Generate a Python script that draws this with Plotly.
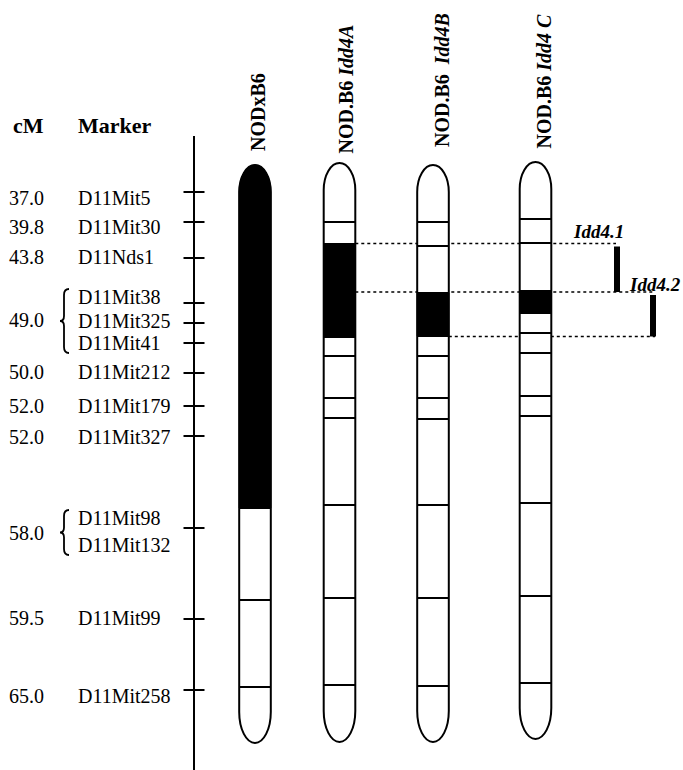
import plotly.graph_objects as go

# ---------------------------------------------------------------
# Chromosome 11 markers: genetic position (cM) and position on the drawn map
# ---------------------------------------------------------------
markers = ["D11Mit5", "D11Mit30", "D11Nds1", "D11Mit38", "D11Mit325", "D11Mit41",
           "D11Mit212", "D11Mit179", "D11Mit327", "D11Mit98", "D11Mit132",
           "D11Mit99", "D11Mit258"]
marker_cm = [37.0, 39.8, 43.8, 49.0, 49.0, 49.0, 50.0, 52.0, 52.0, 58.0, 58.0, 59.5, 65.0]
marker_map = [192, 222, 258, 303, 323, 343, 373, 406, 436, 528, 528, 619, 690]

# markers sharing one cM label (bracketed when more than one)
cm_groups = [[0], [1], [2], [3, 4, 5], [6], [7], [8], [9, 10], [11], [12]]

# strains and their chromosome segments (map units)
strains = ["NODxB6", "NOD.B6 <i>Idd4A</i>", "NOD.B6\u00a0\u00a0<i>Idd4B</i>", "NOD.B6 <i>Idd4 C</i>"]
strain_top = [165, 163, 165, 162]
strain_bottom = [743, 742, 742, 739]
strain_bands = [
    [508, 600, 687],
    [222, 244, 337, 356, 398, 418, 505, 598, 685],
    [222, 246, 293, 336, 356, 398, 419, 505, 598, 686],
    [219, 243, 291, 313, 333, 353, 396, 416, 503, 596, 683],
]
strain_filled = [
    [(165, 508)],
    [(244, 337)],
    [(293, 336)],
    [(291, 313)],
]

# Idd4 sub-loci intervals
loci = ["Idd4.1", "Idd4.2"]
locus_start = [243.5, 292.0]
locus_end = [292.0, 336.5]
# guide lines: (map position, strain whose edge it starts from, locus it ends at)
guide_y = [243.5, 292.0, 336.5]
guide_strain = [1, 1, 2]
guide_locus = [0, 1, 1]

# ---------------------------------------------------------------
# Layout constants (drawing only)
# ---------------------------------------------------------------
W, H = 683, 770
FONT = "Liberation Serif, Times New Roman, serif"
axis_x = 194
axis_top, axis_bottom = 136, 770
tick_half = 10.5
cm_x, name_x = 7, 76
strain_x = [255, 339.5, 433, 535.5]
strain_label_x = [258, 345, 442, 543]
strain_label_bottom = [153, 156, 149, 151]
half_w = 15.8
cap_top_h, cap_bot_h = 27, 31
locus_x = [617, 653]
locus_label_x = [571, 627]
locus_label_y = [231, 284]
name_label_y = [198, 227, 257, 297, 321, 343, 372, 406, 437, 518, 545, 618, 696]
cm_label_y = [198, 227, 257, 320, 372, 406, 437, 533, 618, 696]
brace_x = 60

K = 0.5523
shapes = []
annotations = []


def line(x0, y0, x1, y1, width=2, dash="solid", layer="above"):
    shapes.append(dict(type="line", xref="x", yref="y", x0=x0, y0=y0, x1=x1, y1=y1,
                       line=dict(color="black", width=width, dash=dash), layer=layer))


def outline_path(cx, top, bot):
    yt, yb = top + cap_top_h, bot - cap_bot_h
    l, r = cx - half_w, cx + half_w
    return (f"M {l},{yt} C {l},{yt - K * cap_top_h} {cx - K * half_w},{top} {cx},{top} "
            f"C {cx + K * half_w},{top} {r},{yt - K * cap_top_h} {r},{yt} "
            f"L {r},{yb} C {r},{yb + K * cap_bot_h} {cx + K * half_w},{bot} {cx},{bot} "
            f"C {cx - K * half_w},{bot} {l},{yb + K * cap_bot_h} {l},{yb} Z")


def filled_path(cx, top, a, b):
    l, r = cx - half_w, cx + half_w
    if a <= top:
        yt = top + cap_top_h
        return (f"M {l},{b} L {l},{yt} C {l},{yt - K * cap_top_h} {cx - K * half_w},{top} {cx},{top} "
                f"C {cx + K * half_w},{top} {r},{yt - K * cap_top_h} {r},{yt} L {r},{b} Z")
    return f"M {l},{a} L {l},{b} L {r},{b} L {r},{a} Z"


# dotted guide lines (beneath the chromosomes)
for gy, gs, gl in zip(guide_y, guide_strain, guide_locus):
    x_end = locus_x[gl] + (2 if gl == 1 else -1)
    line(strain_x[gs] + half_w, gy, x_end, gy, width=1.3, dash="dot")

# map axis with marker ticks
line(axis_x, axis_top, axis_x, axis_bottom, width=2)
for pos in sorted(set(marker_map)):
    line(axis_x - tick_half, pos, axis_x + tick_half, pos, width=2)

# chromosomes
for i, cx in enumerate(strain_x):
    top, bot = strain_top[i], strain_bottom[i]
    shapes.append(dict(type="path", xref="x", yref="y", path=outline_path(cx, top, bot),
                       fillcolor="white", line=dict(width=0)))
    for a, b in strain_filled[i]:
        shapes.append(dict(type="path", xref="x", yref="y", path=filled_path(cx, top, a, b),
                           fillcolor="black", line=dict(color="black", width=1)))
    for yb in strain_bands[i]:
        line(cx - half_w, yb, cx + half_w, yb, width=2)
    shapes.append(dict(type="path", xref="x", yref="y", path=outline_path(cx, top, bot),
                       fillcolor="rgba(0,0,0,0)", line=dict(color="black", width=2)))
    annotations.append(dict(x=strain_label_x[i], y=strain_label_bottom[i], xref="x", yref="y",
                            text=f"<b>{strains[i]}</b>", showarrow=False, textangle=-90,
                            xanchor="center", yanchor="bottom",
                            font=dict(family=FONT, size=20, color="black")))

# Idd4 sub-locus bars
for j, name in enumerate(loci):
    shapes.append(dict(type="rect", xref="x", yref="y",
                       x0=locus_x[j] - 3, x1=locus_x[j] + 3,
                       y0=locus_start[j] + 3, y1=locus_end[j],
                       fillcolor="black", line=dict(width=0)))
    annotations.append(dict(x=locus_label_x[j], y=locus_label_y[j], xref="x", yref="y",
                            text=f"<b><i>{name}</i></b>", showarrow=False,
                            xanchor="left", yanchor="middle",
                            font=dict(family=FONT, size=19, color="black")))

# marker names
for name, ly in zip(markers, name_label_y):
    annotations.append(dict(x=name_x, y=ly, xref="x", yref="y", text=name, showarrow=False,
                            xanchor="left", yanchor="middle",
                            font=dict(family=FONT, size=20, color="black")))

# cM labels and braces for grouped markers
for grp, ly in zip(cm_groups, cm_label_y):
    annotations.append(dict(x=cm_x, y=ly, xref="x", yref="y", text=f"{marker_cm[grp[0]]:.1f}",
                            showarrow=False, xanchor="left", yanchor="middle",
                            font=dict(family=FONT, size=20, color="black")))
    if len(grp) > 1:
        y0 = name_label_y[grp[0]] - 8
        y1 = name_label_y[grp[-1]] + 10
        ym = (y0 + y1) / 2
        xt, xm, xe = brace_x, brace_x + 4, brace_x + 9
        path = (f"M {xe},{y0} Q {xm},{y0} {xm},{y0 + 6} L {xm},{ym - 5} "
                f"Q {xm},{ym} {xt},{ym} Q {xm},{ym} {xm},{ym + 5} "
                f"L {xm},{y1 - 6} Q {xm},{y1} {xe},{y1}")
        shapes.append(dict(type="path", xref="x", yref="y", path=path,
                           line=dict(color="black", width=1.8)))

# column headers
annotations.append(dict(x=11, y=125, xref="x", yref="y", text="<b>cM</b>", showarrow=False,
                        xanchor="left", yanchor="middle",
                        font=dict(family=FONT, size=22, color="black")))
annotations.append(dict(x=76, y=125, xref="x", yref="y", text="<b>Marker</b>", showarrow=False,
                        xanchor="left", yanchor="middle",
                        font=dict(family=FONT, size=22, color="black")))

fig = go.Figure()
fig.add_trace(go.Scatter(x=[0, W], y=[0, H], mode="markers",
                         marker=dict(opacity=0), hoverinfo="skip", showlegend=False))
fig.update_layout(
    width=W, height=H,
    margin=dict(l=0, r=0, t=0, b=0),
    paper_bgcolor="white", plot_bgcolor="white",
    xaxis=dict(range=[0, W], visible=False, fixedrange=True),
    yaxis=dict(range=[H, 0], visible=False, fixedrange=True),
    shapes=shapes, annotations=annotations,
    showlegend=False, hovermode=False,
)
fig.write_html("out.html")
